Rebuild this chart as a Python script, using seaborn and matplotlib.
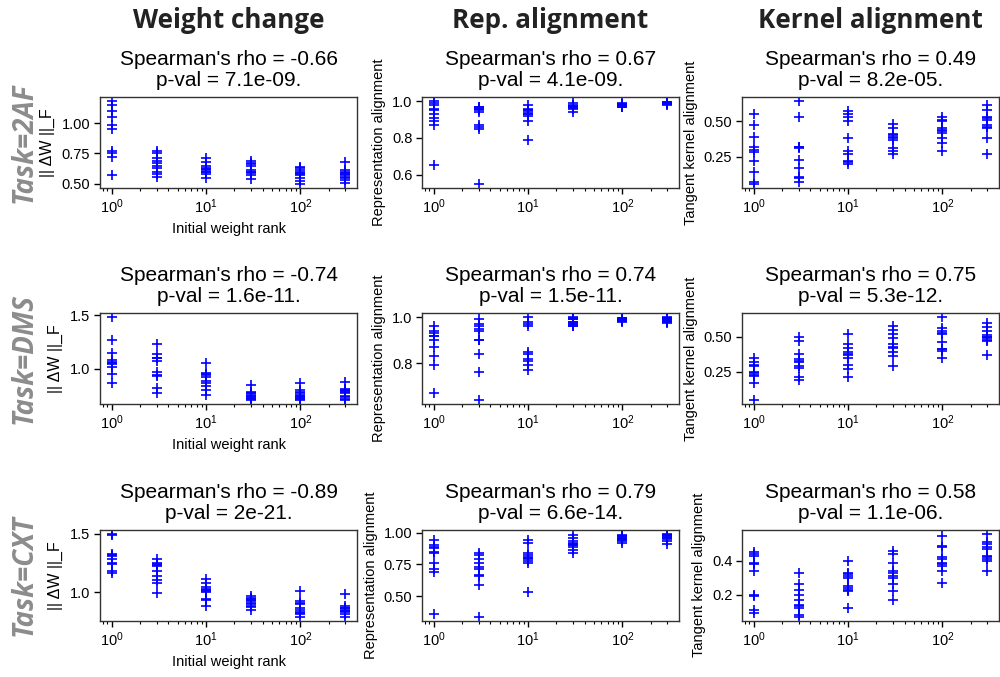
import numpy as np
import pandas as pd
import matplotlib
matplotlib.use("Agg")
import matplotlib.pyplot as plt
import seaborn as sns

ranks = [1, 3, 10, 30, 100, 300]
tasks = ["2AF", "DMS", "CXT"]
columns = ["Weight change", "Rep. alignment", "Kernel alignment"]
ylabels = ["|| ΔW ||_F", "Representation alignment", "Tangent kernel alignment"]

# values per rank (10 networks each)
weight_2af = [
    [1.18, 1.15, 1.10, 1.05, 0.98, 0.95, 0.77, 0.75, 0.72, 0.57],
    [0.77, 0.75, 0.71, 0.69, 0.67, 0.65, 0.63, 0.60, 0.58, 0.56],
    [0.71, 0.68, 0.65, 0.63, 0.62, 0.61, 0.60, 0.60, 0.58, 0.55],
    [0.69, 0.67, 0.66, 0.65, 0.61, 0.60, 0.60, 0.59, 0.57, 0.54],
    [0.64, 0.63, 0.61, 0.60, 0.59, 0.58, 0.57, 0.55, 0.52, 0.50],
    [0.68, 0.61, 0.60, 0.59, 0.58, 0.57, 0.56, 0.55, 0.53, 0.51],
]
rep_2af = [
    [1.00, 0.99, 0.98, 0.96, 0.95, 0.93, 0.91, 0.89, 0.87, 0.65],
    [0.97, 0.97, 0.96, 0.96, 0.95, 0.94, 0.87, 0.86, 0.85, 0.55],
    [0.98, 0.96, 0.95, 0.95, 0.94, 0.93, 0.93, 0.92, 0.89, 0.79],
    [0.99, 0.98, 0.975, 0.975, 0.97, 0.97, 0.97, 0.965, 0.96, 0.94],
    [0.99, 0.985, 0.985, 0.98, 0.98, 0.98, 0.975, 0.975, 0.97, 0.97],
    [0.995, 0.995, 0.99, 0.99, 0.99, 0.99, 0.99, 0.985, 0.985, 0.98],
]
kernel_2af = [
    [0.55, 0.47, 0.39, 0.32, 0.30, 0.28, 0.22, 0.14, 0.07, 0.06],
    [0.64, 0.53, 0.32, 0.32, 0.31, 0.23, 0.17, 0.11, 0.10, 0.07],
    [0.57, 0.55, 0.53, 0.50, 0.38, 0.29, 0.27, 0.22, 0.21, 0.20],
    [0.48, 0.45, 0.41, 0.40, 0.39, 0.38, 0.37, 0.31, 0.29, 0.27],
    [0.53, 0.51, 0.50, 0.45, 0.44, 0.43, 0.42, 0.38, 0.35, 0.29],
    [0.61, 0.58, 0.53, 0.52, 0.51, 0.47, 0.46, 0.45, 0.38, 0.27],
]
weight_dms = [
    [1.48, 1.27, 1.15, 1.08, 1.06, 1.05, 1.04, 1.02, 0.95, 0.87],
    [1.23, 1.14, 1.10, 1.10, 1.07, 0.97, 0.94, 0.93, 0.82, 0.77],
    [1.05, 0.96, 0.95, 0.94, 0.92, 0.89, 0.87, 0.84, 0.80, 0.76],
    [0.85, 0.78, 0.77, 0.77, 0.76, 0.75, 0.74, 0.73, 0.72, 0.71],
    [0.87, 0.80, 0.78, 0.77, 0.76, 0.75, 0.74, 0.73, 0.72, 0.71],
    [0.88, 0.81, 0.80, 0.79, 0.78, 0.77, 0.75, 0.74, 0.72, 0.71],
]
rep_dms = [
    [0.96, 0.94, 0.93, 0.92, 0.92, 0.90, 0.87, 0.83, 0.79, 0.67],
    [0.99, 0.97, 0.96, 0.95, 0.94, 0.90, 0.90, 0.84, 0.76, 0.64],
    [1.00, 0.98, 0.97, 0.96, 0.85, 0.84, 0.82, 0.81, 0.79, 0.77],
    [1.00, 0.995, 0.99, 0.99, 0.98, 0.98, 0.97, 0.97, 0.96, 0.96],
    [0.995, 0.995, 0.99, 0.99, 0.99, 0.99, 0.985, 0.985, 0.985, 0.98],
    [1.00, 0.995, 0.995, 0.99, 0.99, 0.99, 0.985, 0.985, 0.98, 0.975],
]
kernel_dms = [
    [0.35, 0.32, 0.30, 0.29, 0.25, 0.24, 0.23, 0.22, 0.17, 0.05],
    [0.50, 0.47, 0.38, 0.34, 0.33, 0.32, 0.29, 0.28, 0.21, 0.19],
    [0.52, 0.45, 0.42, 0.39, 0.38, 0.37, 0.35, 0.30, 0.27, 0.21],
    [0.58, 0.55, 0.52, 0.49, 0.45, 0.43, 0.42, 0.39, 0.36, 0.29],
    [0.64, 0.56, 0.54, 0.53, 0.52, 0.46, 0.41, 0.41, 0.40, 0.35],
    [0.60, 0.57, 0.54, 0.51, 0.50, 0.50, 0.49, 0.48, 0.47, 0.37],
]
weight_cxt = [
    [1.50, 1.49, 1.33, 1.32, 1.31, 1.28, 1.25, 1.24, 1.18, 1.16],
    [1.28, 1.25, 1.24, 1.23, 1.22, 1.18, 1.14, 1.10, 1.08, 0.99],
    [1.11, 1.08, 1.04, 1.03, 1.02, 1.01, 1.00, 0.94, 0.93, 0.88],
    [0.97, 0.95, 0.94, 0.93, 0.92, 0.91, 0.90, 0.88, 0.87, 0.85],
    [1.01, 0.92, 0.91, 0.90, 0.86, 0.85, 0.83, 0.82, 0.81, 0.79],
    [0.98, 0.88, 0.86, 0.86, 0.85, 0.84, 0.84, 0.83, 0.81, 0.79],
]
rep_cxt = [
    [0.94, 0.90, 0.89, 0.88, 0.85, 0.84, 0.76, 0.71, 0.69, 0.36],
    [0.84, 0.82, 0.79, 0.76, 0.73, 0.71, 0.67, 0.66, 0.59, 0.34],
    [0.94, 0.92, 0.84, 0.82, 0.81, 0.80, 0.79, 0.78, 0.76, 0.53],
    [0.98, 0.96, 0.93, 0.92, 0.91, 0.90, 0.90, 0.89, 0.86, 0.84],
    [0.98, 0.97, 0.97, 0.96, 0.96, 0.95, 0.95, 0.94, 0.93, 0.92],
    [0.99, 0.98, 0.98, 0.97, 0.97, 0.96, 0.96, 0.95, 0.93, 0.91],
]
kernel_cxt = [
    [0.45, 0.44, 0.43, 0.39, 0.38, 0.34, 0.20, 0.19, 0.11, 0.09],
    [0.33, 0.26, 0.23, 0.20, 0.17, 0.14, 0.13, 0.12, 0.08, 0.07],
    [0.40, 0.33, 0.32, 0.31, 0.30, 0.25, 0.24, 0.23, 0.22, 0.12],
    [0.46, 0.44, 0.39, 0.34, 0.33, 0.31, 0.30, 0.26, 0.22, 0.17],
    [0.55, 0.49, 0.48, 0.42, 0.41, 0.39, 0.38, 0.37, 0.34, 0.27],
    [0.56, 0.51, 0.50, 0.48, 0.47, 0.43, 0.42, 0.41, 0.40, 0.34],
]

rho = [[-0.66, 0.67, 0.49], [-0.74, 0.74, 0.75], [-0.89, 0.79, 0.58]]
pval = [["7.1e-09", "4.1e-09", "8.2e-05"],
        ["1.6e-11", "1.5e-11", "5.3e-12"],
        ["2e-21", "6.6e-14", "1.1e-06"]]

panels = [[weight_2af, rep_2af, kernel_2af],
          [weight_dms, rep_dms, kernel_dms],
          [weight_cxt, rep_cxt, kernel_cxt]]

sns.set_theme(style="ticks")
plt.rcParams["font.family"] = ["Liberation Sans", "DejaVu Sans"]
plt.rcParams["text.color"] = "black"
plt.rcParams["axes.labelcolor"] = "black"
plt.rcParams["xtick.color"] = "black"
plt.rcParams["ytick.color"] = "black"
plt.rcParams["axes.edgecolor"] = "#333333"

fig = plt.figure(figsize=(10, 6.77), dpi=100)

lefts = [0.100, 0.422, 0.742]
bottoms = [0.7223, 0.4032, 0.0832]
w, h = 0.257, 0.1344

for r in range(3):
    for c in range(3):
        ax = fig.add_axes([lefts[c], bottoms[r], w, h])
        vals = panels[r][c]
        xs, ys = [], []
        for rk, vs in zip(ranks, vals):
            xs += [rk] * len(vs)
            ys += list(vs)
        df = pd.DataFrame({"rank": xs, "value": ys})
        sns.scatterplot(data=df, x="rank", y="value", ax=ax, marker="+",
                        color="blue", s=50, linewidth=1.2)
        ax.set_xscale("log")
        ax.set_title(f"Spearman's rho = {rho[r][c]}\np-val = {pval[r][c]}.",
                     fontsize=15, linespacing=1.1, pad=8)
        ax.tick_params(axis="both", labelsize=10.5, length=4, width=1, pad=3)
        ax.tick_params(axis="both", which="minor", length=2.5, width=0.8)
        if c == 0:
            ax.set_ylabel(ylabels[c], fontsize=11.5, labelpad=5)
            ax.set_xlabel("Initial weight rank", fontsize=10.5)
        else:
            ax.set_ylabel(ylabels[c], fontsize=10.5)
            ax.set_xlabel("")
        for sp in ax.spines.values():
            sp.set_linewidth(1.0)

for c in range(3):
    fig.text(lefts[c] + w / 2, 1 - 28 / 677, columns[c], ha="center", va="baseline",
             fontsize=18.7, fontweight="bold", family=["Open Sans", "DejaVu Sans"],
             color="#222222")

for r in range(3):
    fig.text(0.024, bottoms[r] + h / 2, f"Task={tasks[r]}", ha="center", va="center",
             rotation=90, fontsize=20, fontweight="bold", fontstyle="italic",
             family=["Open Sans", "DejaVu Sans"], color="#8c8c8c")

fig.savefig("out.png", dpi=100)
